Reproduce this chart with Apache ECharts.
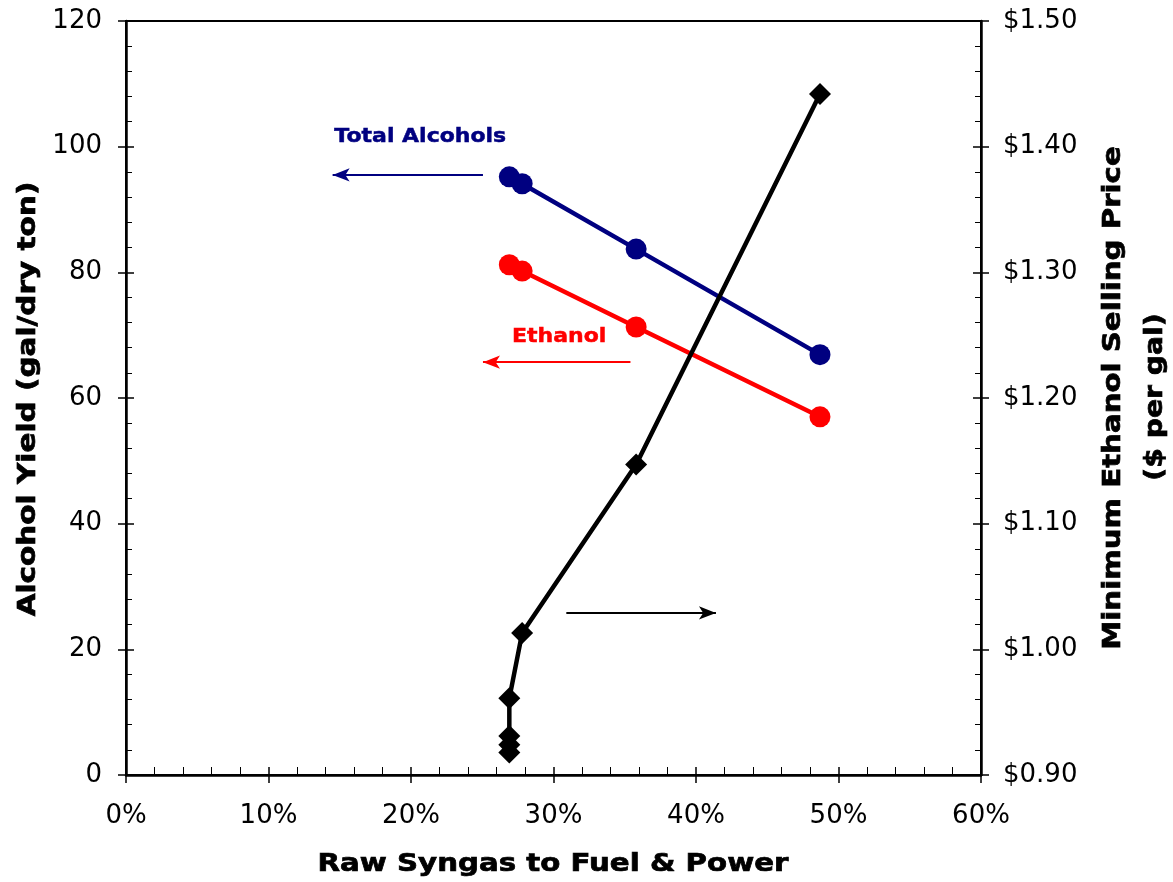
<!DOCTYPE html>
<html>
<head>
<meta charset="utf-8">
<script src="https://cdn.jsdelivr.net/npm/echarts@6/dist/echarts.min.js"></script>
<style>
html,body{margin:0;padding:0;background:#fff;}
#c{width:1173px;height:882px;}
</style>
</head>
<body>
<div id="c"></div>
<script>
// ---- data ----
const syngasTotal = [26.9, 27.8, 35.8, 48.7];
const totalAlcohols = [95.2, 94.1, 83.7, 66.9];
const syngasEthanol = [26.9, 27.8, 35.8, 48.7];
const ethanolYield = [81.2, 80.2, 71.3, 57.0];
const syngasPrice = [26.9, 26.9, 26.9, 26.9, 27.8, 35.8, 48.7];
const sellingPrice = [0.918, 0.924, 0.931, 0.961, 1.013, 1.147, 1.442];
const xTicks = [0, 10, 20, 30, 40, 50, 60];
const leftTicks = [0, 20, 40, 60, 80, 100, 120];
const rightTicks = [0.9, 1.0, 1.1, 1.2, 1.3, 1.4, 1.5];

// annotation arrows (data coords: x in %, y in left axis units)
const arrowTotal = [[25.05, 95.5], [14.5, 95.5]];
const arrowEthanol = [[35.4, 65.7], [25.05, 65.7]];
const arrowPrice = [[30.9, 25.8], [41.4, 25.8]];
const labelTotal = {text: 'Total Alcohols', at: [20.65, 101.5]};
const labelEthanol = {text: 'Ethanol', at: [30.4, 69.8]};

const FONT = 'DejaVu Sans, Verdana, sans-serif';
const gridBox = {left: 126, right: 192, top: 21, bottom: 107};

const chart = echarts.init(document.getElementById('c'));
const pair = (xs, ys) => xs.map((x, i) => [x, ys[i]]);

function arrowLine(pts, color) {
  return {
    silent: true,
    symbol: ['none', 'arrow'],
    symbolSize: [10, 17],
    label: {show: false},
    lineStyle: {color: color, width: 2, type: 'solid'},
    data: [[{coord: pts[0]}, {coord: pts[1]}]]
  };
}

const tickLabel = {color: '#000', fontSize: 26, fontFamily: FONT};

const option = {
  animation: false,
  backgroundColor: '#fff',
  grid: [
    Object.assign({show: true, borderColor: '#000', borderWidth: 2, backgroundColor: 'transparent'}, gridBox),
    Object.assign({show: false}, gridBox)
  ],
  xAxis: [
    {
      type: 'value', gridIndex: 0, min: xTicks[0], max: xTicks[xTicks.length - 1], interval: 10,
      axisLine: {show: true, lineStyle: {color: '#000', width: 2.5}},
      axisTick: {show: true, inside: true, length: 8, lineStyle: {color: '#000', width: 1.5}},
      minorTick: {show: true, splitNumber: 5, length: 8, lineStyle: {color: '#000', width: 1}},
      splitLine: {show: false},
      axisLabel: Object.assign({margin: 28, formatter: v => v + '%'}, tickLabel)
    },
    {
      type: 'value', gridIndex: 1, min: 0, max: 60, interval: 10,
      axisLine: {show: false},
      axisTick: {show: true, inside: false, length: 8, lineStyle: {color: '#000', width: 1.5}},
      splitLine: {show: false}, axisLabel: {show: false}
    }
  ],
  yAxis: [
    {
      type: 'value', gridIndex: 0, position: 'left', min: leftTicks[0], max: leftTicks[leftTicks.length - 1], interval: 20,
      axisLine: {show: true, lineStyle: {color: '#000', width: 2.5}},
      axisTick: {show: true, inside: true, length: 8, lineStyle: {color: '#000', width: 1.5}},
      minorTick: {show: true, splitNumber: 5, length: 6, lineStyle: {color: '#000', width: 1}},
      splitLine: {show: false},
      axisLabel: Object.assign({margin: 24}, tickLabel)
    },
    {
      type: 'value', gridIndex: 0, position: 'right', min: rightTicks[0], max: rightTicks[rightTicks.length - 1], interval: 0.1,
      axisLine: {show: true, lineStyle: {color: '#000', width: 2.5}},
      axisTick: {show: true, inside: true, length: 8, lineStyle: {color: '#000', width: 1.5}},
      minorTick: {show: true, splitNumber: 5, length: 6, lineStyle: {color: '#000', width: 1}},
      splitLine: {show: false},
      axisLabel: Object.assign({margin: 22, formatter: v => '$' + v.toFixed(2)}, tickLabel)
    },
    {
      type: 'value', gridIndex: 1, position: 'left', min: 0, max: 120, interval: 20,
      axisLine: {show: false},
      axisTick: {show: true, inside: false, length: 8, lineStyle: {color: '#000', width: 1.5}},
      splitLine: {show: false}, axisLabel: {show: false}
    },
    {
      type: 'value', gridIndex: 1, position: 'right', min: 0.9, max: 1.5, interval: 0.1,
      axisLine: {show: false},
      axisTick: {show: true, inside: false, length: 8, lineStyle: {color: '#000', width: 1.5}},
      splitLine: {show: false}, axisLabel: {show: false}
    }
  ],
  series: [
    {
      name: 'Total Alcohols', type: 'line', xAxisIndex: 0, yAxisIndex: 0,
      data: pair(syngasTotal, totalAlcohols),
      symbol: 'circle', symbolSize: 21, showSymbol: true,
      lineStyle: {color: '#000080', width: 4.5}, itemStyle: {color: '#000080'},
      markLine: arrowLine(arrowTotal, '#000080')
    },
    {
      name: 'Ethanol', type: 'line', xAxisIndex: 0, yAxisIndex: 0,
      data: pair(syngasEthanol, ethanolYield),
      symbol: 'circle', symbolSize: 21,
      lineStyle: {color: '#ff0000', width: 4.5}, itemStyle: {color: '#ff0000'},
      markLine: arrowLine(arrowEthanol, '#ff0000')
    },
    {
      name: 'Price', type: 'line', xAxisIndex: 0, yAxisIndex: 1,
      data: pair(syngasPrice, sellingPrice),
      symbol: 'diamond', symbolSize: 22,
      lineStyle: {color: '#000', width: 4.5}, itemStyle: {color: '#000'}
    },
    {
      name: 'arrowPrice', type: 'line', xAxisIndex: 0, yAxisIndex: 0, data: [],
      markLine: arrowLine(arrowPrice, '#000')
    }
  ],
  graphic: [
    {type: 'text', x: 28, y: 399, rotation: Math.PI / 2, scaleX: 1.18,
     style: {text: 'Alcohol Yield (gal/dry ton)', font: 'bold 25px ' + FONT, fill: '#000', stroke: '#000', lineWidth: 0.7, textAlign: 'center', textVerticalAlign: 'middle'}},
    {type: 'text', x: 1113, y: 398, rotation: Math.PI / 2, scaleX: 1.17,
     style: {text: 'Minimum Ethanol Selling Price', font: 'bold 25px ' + FONT, fill: '#000', stroke: '#000', lineWidth: 0.7, textAlign: 'center', textVerticalAlign: 'middle'}},
    {type: 'text', x: 1155, y: 397, rotation: Math.PI / 2, scaleX: 1.13,
     style: {text: '($ per gal)', font: 'bold 25px ' + FONT, fill: '#000', stroke: '#000', lineWidth: 0.7, textAlign: 'center', textVerticalAlign: 'middle'}},
    {type: 'text', x: 553, y: 864, scaleX: 1.17,
     style: {text: 'Raw Syngas to Fuel & Power', font: 'bold 25px ' + FONT, fill: '#000', stroke: '#000', lineWidth: 0.7, textAlign: 'center', textVerticalAlign: 'middle'}}
  ]
};
chart.setOption(option);

// place annotation labels from data coordinates
const pTotal = chart.convertToPixel({xAxisIndex: 0, yAxisIndex: 0}, labelTotal.at);
const pEth = chart.convertToPixel({xAxisIndex: 0, yAxisIndex: 0}, labelEthanol.at);
chart.setOption({
  graphic: option.graphic.concat([
    {type: 'text', x: pTotal[0], y: pTotal[1], scaleX: 1.1,
     style: {text: labelTotal.text, font: 'bold 20px ' + FONT, fill: '#000080', stroke: '#000080', lineWidth: 0.5, textAlign: 'center', textVerticalAlign: 'middle'}},
    {type: 'text', x: pEth[0], y: pEth[1], scaleX: 1.1,
     style: {text: labelEthanol.text, font: 'bold 20px ' + FONT, fill: '#ff0000', stroke: '#ff0000', lineWidth: 0.5, textAlign: 'center', textVerticalAlign: 'middle'}}
  ])
});
</script>
</body>
</html>
